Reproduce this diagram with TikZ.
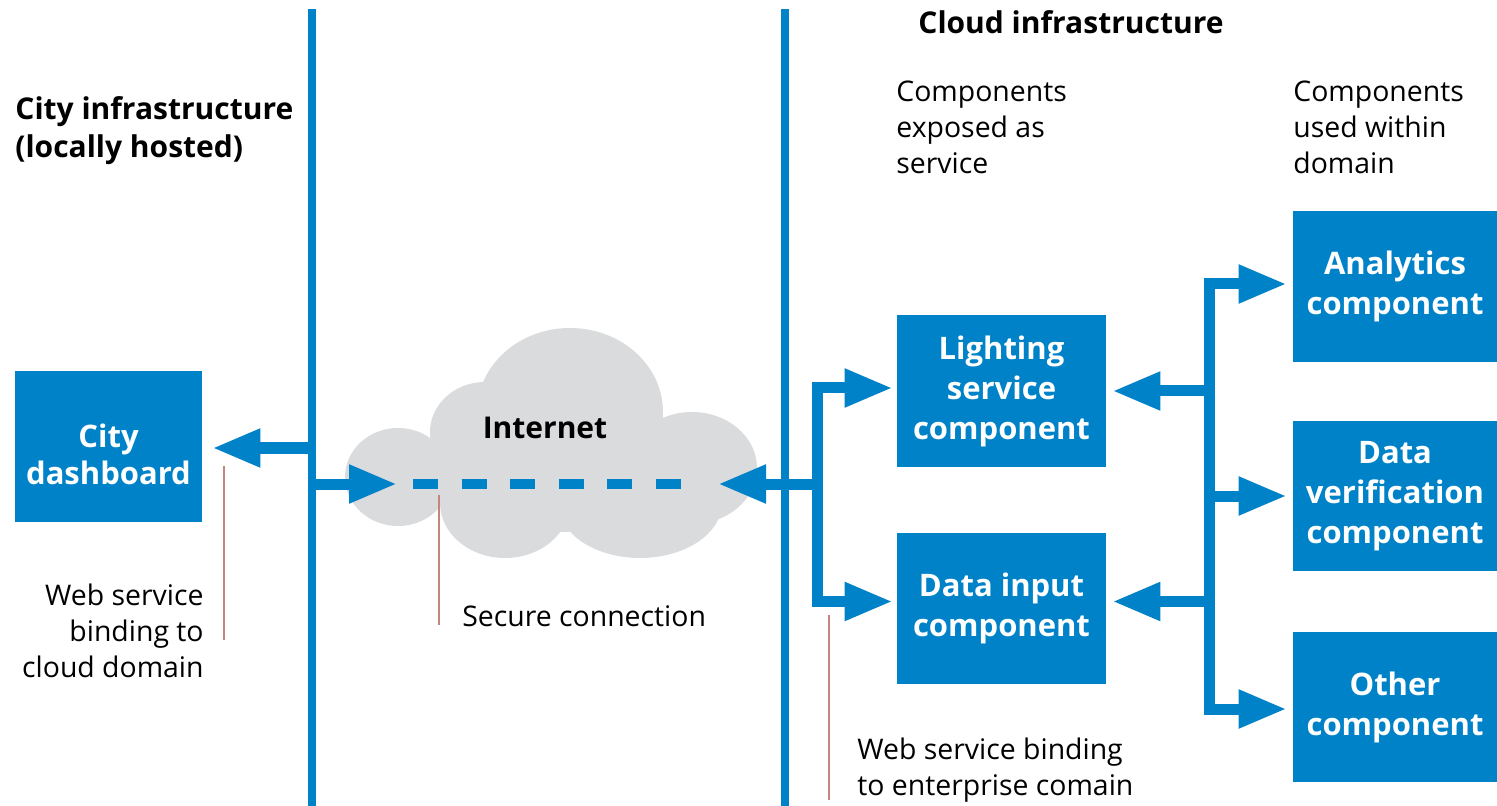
\documentclass[tikz,border=0pt]{standalone}
\usepackage{fontspec}
\setmainfont{Open Sans}
\usetikzlibrary{arrows.meta}
\definecolor{ublue}{RGB}{0,130,200}
\definecolor{cloudgray}{RGB}{218,219,221}
\definecolor{callout}{RGB}{196,134,124}
\begin{document}
\begin{tikzpicture}[x=0.5pt,y=-0.5pt,
  box/.style={fill=ublue,text=white,font=\bfseries\fontsize{15.5}{20}\selectfont,align=center,inner sep=0pt},
  boxtext/.style={text=white,font=\bfseries\fontsize{15.5}{18.5}\selectfont,align=center,inner sep=0pt},
  title/.style={font=\bfseries\fontsize{15}{19}\selectfont,align=left,inner sep=0pt},
  note/.style={font=\fontsize{14.2}{18}\selectfont,inner sep=0pt},
  sepline/.style={draw=ublue,line width=4pt},
  arr/.style={draw=ublue,line width=5.5pt,line join=miter,-{Triangle[length=24pt,width=18pt]}},
  secure/.style={draw=ublue,line width=5pt,dash pattern=on 12.5pt off 11.75pt},
  callline/.style={draw=callout,line width=1pt}]
\useasboundingbox (0,0) rectangle (1497,806);

% cloud
\fill[cloudgray]
  (398,477) ellipse [x radius=53, y radius=49]
  (485,432) ellipse [x radius=55, y radius=50]
  (570,412) ellipse [x radius=93, y radius=84]
  (692,468) ellipse [x radius=65, y radius=56]
  (505,503) ellipse [x radius=65, y radius=55]
  (640,503) ellipse [x radius=82, y radius=55]
  (560,470) ellipse [x radius=135, y radius=62];

% separators
\coordinate (s1t) at (312,9);
\coordinate (s1b) at (312,806);
\coordinate (s2t) at (785,9);
\coordinate (s2b) at (785,806);
\draw[sepline] (s1t) -- (s1b);
\draw[sepline] (s2t) -- (s2b);

% boxes
\node[box,minimum width=93.5pt,minimum height=75.5pt] (dash) at (108.5,446.5) {};
\node[boxtext] (dashtxt) at (108.5,454) {City\\dashboard};
\node[box,minimum width=104.5pt,minimum height=76pt] (light) at (1001.5,391) {Lighting\\service\\component};
\node[box,minimum width=104.5pt,minimum height=75.5pt] (input) at (1001.5,608.5) {Data input\\component};
\node[box,minimum width=102pt,minimum height=75.5pt] (anal) at (1395,286.5) {Analytics\\component};
\node[box,minimum width=102pt,minimum height=75pt] (verif) at (1395,496) {Data\\verification\\component};
\node[box,minimum width=102pt,minimum height=75pt] (other) at (1395,707) {Other\\component};

% titles and notes
\node[title,anchor=west] (cityt) at (15,131) {City infrastructure\\(locally hosted)};
\node[title,anchor=west] (cloudt) at (918,22) {Cloud infrastructure};
\node[note,align=left,anchor=west] (expo) at (896,127) {Components\\exposed as\\service};
\node[note,align=left,anchor=west] (within) at (1293,127) {Components\\used within\\domain};
\node[title,align=center] (inet) at (545,428) {Internet};
\node[note,anchor=west] (secn) at (462,616) {Secure connection};
\node[note,align=right,anchor=east] (wsc) at (204,631) {Web service\\binding to\\cloud domain};
\node[note,align=left,anchor=west] (wse) at (857,770) {Web service binding\\to enterprise comain};

% left side arrows
\coordinate (l1) at (312,448);
\coordinate (l2) at (312,484);
\coordinate (c1) at (397,484);
\draw[arr,shorten >=5pt] (l1) -- (dash.east |- l1);
\draw[arr] (l2) -- (c1);

% secure connection
\coordinate (d1) at (413,484);
\coordinate (d2) at (681,484);
\draw[secure] (d1) -- (d2);

% right of cloud
\coordinate (j1) at (817,484);
\coordinate (c2) at (718,484);
\draw[arr] (j1) -- (c2);
\draw[arr,shorten >=2pt] (j1) |- ([yshift=1.5pt]light.west);
\draw[arr,shorten >=2pt] (j1) |- ([yshift=3.5pt]input.west);

% right branch
\coordinate (rj) at (1209,496);
\draw[arr,shorten >=3pt] (rj) |- ([yshift=1.25pt]anal.west);
\draw[arr,shorten >=3pt] (rj) |- ([yshift=-1pt]other.west);
\draw[arr,shorten >=3pt] (rj) -- (verif.west);
\draw[arr,shorten >=3pt] (rj |- light.east) -- (light.east);
\draw[arr,shorten >=3pt] ([yshift=3.5pt]rj |- input.east) -- ([yshift=3.5pt]input.east);

% callout lines
\coordinate (k1a) at (224,466);
\coordinate (k1b) at (224,640);
\coordinate (k2a) at (439,495);
\coordinate (k2b) at (439,625);
\coordinate (k3a) at (829,615);
\coordinate (k3b) at (829,800);
\draw[callline] (k1a) -- (k1b);
\draw[callline] (k2a) -- (k2b);
\draw[callline] (k3a) -- (k3b);
\end{tikzpicture}
\end{document}
